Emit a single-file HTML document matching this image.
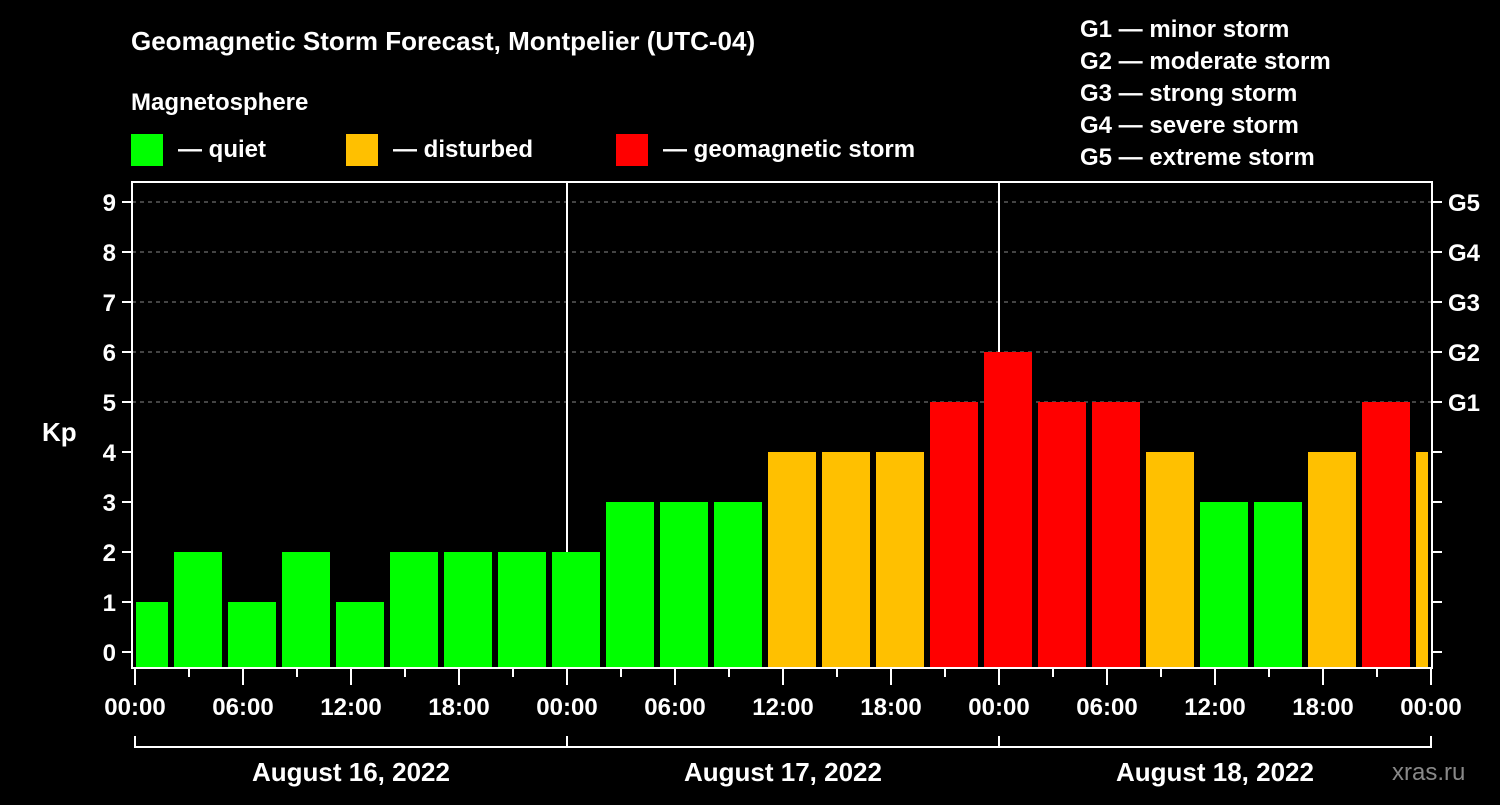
<!DOCTYPE html>
<html><head><meta charset="utf-8"><style>
html,body{margin:0;padding:0;background:#000;}
svg text{font-family:"Liberation Sans",Arial,sans-serif;font-weight:bold;fill:#fff;}
</style></head><body>
<svg id="c" width="1500" height="800" xmlns="http://www.w3.org/2000/svg">
<rect width="1500" height="800" fill="#000"/>
<text x="131" y="50" font-size="26">Geomagnetic Storm Forecast, Montpelier (UTC-04)</text>
<text x="131" y="110" font-size="24">Magnetosphere</text>
<g><rect x="131" y="134" width="32" height="32" fill="#00ff00"/><text x="178" y="157" font-size="24">— quiet</text></g>
<g><rect x="346" y="134" width="32" height="32" fill="#ffc000"/><text x="393" y="157" font-size="24">— disturbed</text></g>
<g><rect x="616" y="134" width="32" height="32" fill="#ff0000"/><text x="663" y="157" font-size="24">— geomagnetic storm</text></g>
<g font-size="24">
<text x="1080" y="37">G1 — minor storm</text>
<text x="1080" y="69">G2 — moderate storm</text>
<text x="1080" y="101">G3 — strong storm</text>
<text x="1080" y="133">G4 — severe storm</text>
<text x="1080" y="165">G5 — extreme storm</text>
</g>
<text x="42" y="441" font-size="26">Kp</text>
<g id="grid"></g><g id="bars"></g><g id="axes"></g>
<text x="1392" y="780" font-size="24" style="fill:#888;font-weight:normal">xras.ru</text>
</svg>
<script>
const kpValues=[1,2,1,2,1,2,2,2,2,3,3,3,4,4,4,5,6,5,5,4,3,3,4,5,4];
const yTicks=[0,1,2,3,4,5,6,7,8,9];
const gLabels=["G1","G2","G3","G4","G5"];
const timeLabels=["00:00","06:00","12:00","18:00","00:00","06:00","12:00","18:00","00:00","06:00","12:00","18:00","00:00"];
const dayLabels=["August 16, 2022","August 17, 2022","August 18, 2022"];
const NS="http://www.w3.org/2000/svg";
const x0=135,pxH=18; // 432px per day
const X=h=>x0+h*pxH;
const Y=v=>652-v*50;
function mk(p,t,a){const e=document.createElementNS(NS,t);for(const k in a)e.setAttribute(k,a[k]);p.appendChild(e);return e;}
const grid=document.getElementById('grid'),bars=document.getElementById('bars'),axes=document.getElementById('axes');
[5,6,7,8,9].forEach(v=>{const l=mk(grid,'line',{x1:132,x2:1432,y1:Y(v),y2:Y(v),stroke:'#888','stroke-dasharray':'4,4','stroke-width':1});

});
[1,2].forEach(d=>{const l=mk(grid,'line',{x1:X(d*24),x2:X(d*24),y1:182,y2:668,stroke:'#fff','stroke-width':2});

});
kpValues.forEach((v,i)=>{const c=X(i*3+0.5);let l=Math.max(c-24,136),r=Math.min(c+24,1428);
const col=v>=5?'#ff0000':(v>=4?'#ffc000':'#00ff00');
const b=mk(bars,'rect',{x:l,y:Y(v),width:r-l,height:668-Y(v),fill:col});

});
mk(axes,'rect',{x:132,y:182,width:1300,height:486,fill:'none',stroke:'#fff','stroke-width':2});
yTicks.forEach(v=>{mk(axes,'line',{x1:122,x2:132,y1:Y(v),y2:Y(v),stroke:'#fff','stroke-width':2});
mk(axes,'line',{x1:1432,x2:1442,y1:Y(v),y2:Y(v),stroke:'#fff','stroke-width':2});
const t=mk(axes,'text',{x:116,y:Y(v)+9,'font-size':24,'text-anchor':'end'});t.textContent=v;

});
gLabels.forEach((g,i)=>{const t=mk(axes,'text',{x:1448,y:Y(i+5)+9,'font-size':24});t.textContent=g;

});
for(let k=0;k<=24;k++){const x=X(k*3);mk(axes,'line',{x1:x,x2:x,y1:668,y2:k%2?677:685,stroke:'#fff','stroke-width':2});}
timeLabels.forEach((s,i)=>{const t=mk(axes,'text',{x:X(i*6),y:715,'font-size':24,'text-anchor':'middle'});t.textContent=s;

});
mk(axes,'line',{x1:X(0),x2:X(72),y1:747,y2:747,stroke:'#fff','stroke-width':2});
[0,1,2,3].forEach(d=>mk(axes,'line',{x1:X(d*24),x2:X(d*24),y1:736,y2:748,stroke:'#fff','stroke-width':2}));
dayLabels.forEach((s,i)=>{const t=mk(axes,'text',{x:X(i*24+12),y:781,'font-size':26,'text-anchor':'middle'});t.textContent=s;

});
</script>
</body></html>
